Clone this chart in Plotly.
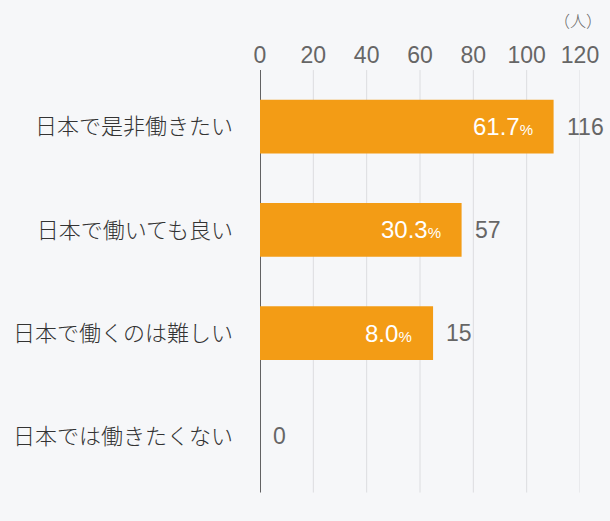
import plotly.graph_objects as go

categories = ["日本で是非働きたい", "日本で働いても良い", "日本で働くのは難しい", "日本では働きたくない"]
counts = [116, 57, 15, 0]
bar_lengths = [110.1, 75.6, 64.9, 0]
percents = ["61.7", "30.3", "8.0", None]
tick_vals = [0, 20, 40, 60, 80, 100, 120]
unit_label = "（人）"

ORANGE = "#F39C15"
BG = "#F6F7F9"
NUM_FONT = "Liberation Sans, Arial, sans-serif"
JP_FONT = "Noto Sans CJK JP, sans-serif"

fig = go.Figure()
fig.add_trace(go.Bar(
    x=bar_lengths, y=categories, orientation="h",
    marker=dict(color=ORANGE, line=dict(width=0)),
    width=0.52, hoverinfo="skip",
))

shapes = []
for v in tick_vals:
    shapes.append(dict(type="line", xref="x", yref="paper", x0=v, x1=v,
                       y0=-0.011, y1=1.012, layer="below",
                       line=dict(color="#111111" if v == 0 else "#DCDDE0", width=1.3 if v == 0 else 1)))

annotations = []
for cat, L, c, p in zip(categories, bar_lengths, counts, percents):
    annotations.append(dict(x=L, y=cat, xref="x", yref="y", text=str(c), showarrow=False,
                            xanchor="left", xshift=11,
                            font=dict(family=NUM_FONT, size=23, color="#666666")))
    if p is not None:
        annotations.append(dict(x=L, y=cat, xref="x", yref="y",
                                text=p + "<span style='font-size:15px'>%</span>", showarrow=False,
                                xanchor="right", xshift=-19,
                                font=dict(family=NUM_FONT, size=24, color="#FFFFFF")))
annotations.append(dict(x=1.0, y=1.0, xref="paper", yref="paper", yanchor="bottom", xanchor="right",
                        yshift=41, xshift=24, text=unit_label, showarrow=False,
                        font=dict(family=JP_FONT, size=16, color="#666666", weight=300)))

fig.update_layout(
    width=610, height=521,
    margin=dict(l=260, r=30, t=75, b=33),
    paper_bgcolor=BG, plot_bgcolor=BG,
    showlegend=False,
    shapes=shapes, annotations=annotations,
    xaxis=dict(range=[0, 120], side="top", tickvals=tick_vals, showgrid=False, zeroline=False,
               showline=False, ticks="", ticklabelstandoff=6,
               tickfont=dict(family=NUM_FONT, size=23, color="#666666"), fixedrange=True),
    yaxis=dict(categoryorder="array", categoryarray=categories, autorange="reversed",
               showgrid=False, zeroline=False, showline=False, ticks="", ticklabelstandoff=26,
               tickfont=dict(family=JP_FONT, size=22, color="#333333", weight=300), fixedrange=True),
)

fig.write_html("out.html")
